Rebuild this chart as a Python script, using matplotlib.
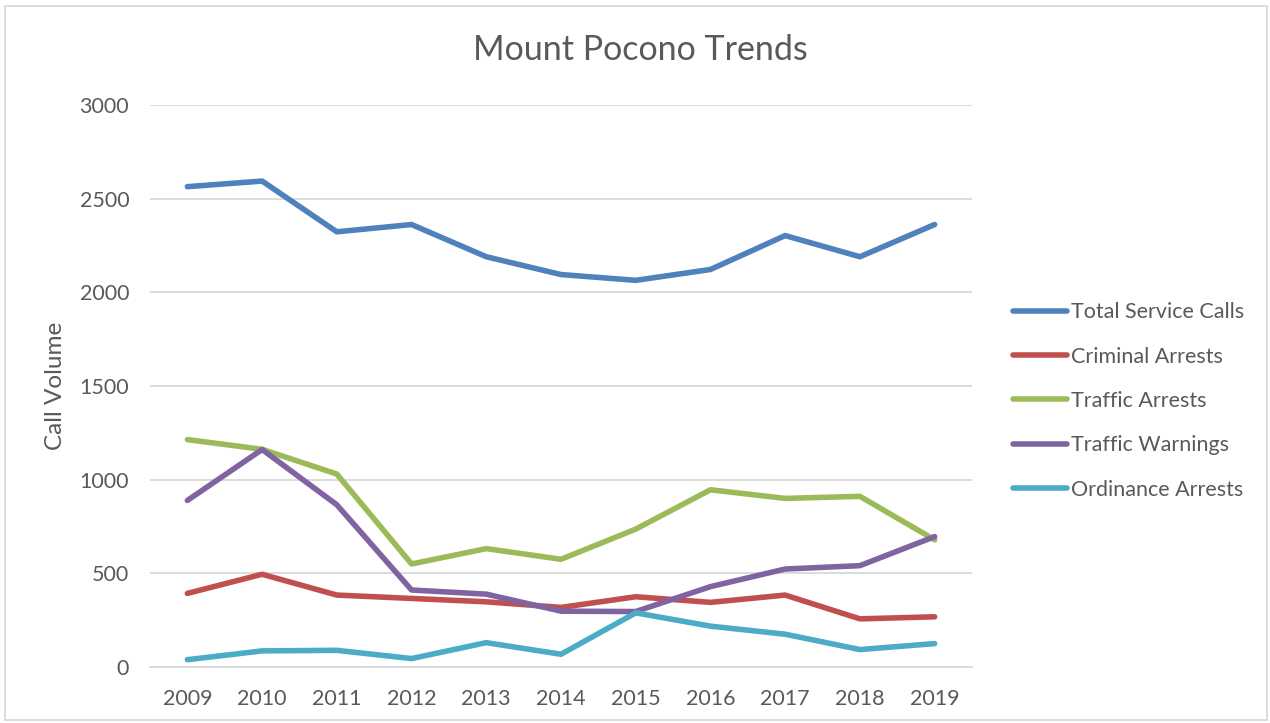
import matplotlib.pyplot as plt
from matplotlib.patches import Rectangle

plt.rcParams['font.family'] = ['Lato', 'DejaVu Sans']

years = ['2009', '2010', '2011', '2012', '2013', '2014', '2015', '2016', '2017', '2018', '2019']

total_service_calls = [2564, 2594, 2323, 2362, 2190, 2095, 2064, 2122, 2303, 2190, 2362]
criminal_arrests = [393, 495, 384, 366, 348, 318, 375, 345, 384, 257, 268]
traffic_arrests = [1214, 1162, 1030, 550, 632, 575, 736, 946, 900, 911, 679]
traffic_warnings = [889, 1161, 866, 411, 389, 298, 296, 429, 523, 541, 696]
ordinance_arrests = [39, 86, 89, 45, 130, 68, 289, 218, 175, 93, 125]

series = [
    ('Total Service Calls', total_service_calls, '#4f81bd'),
    ('Criminal Arrests', criminal_arrests, '#c0504d'),
    ('Traffic Arrests', traffic_arrests, '#9bbb59'),
    ('Traffic Warnings', traffic_warnings, '#8064a2'),
    ('Ordinance Arrests', ordinance_arrests, '#4bacc6'),
]

text_color = '#595959'
grid_color = '#d9d9d9'

fig = plt.figure(figsize=(12.7, 7.23), dpi=100)
ax = fig.add_axes([150 / 1270, 1 - 667 / 723, (972 - 150) / 1270, (667 - 105) / 723])

x = list(range(len(years)))
for name, vals, color in series:
    ax.plot(x, vals, color=color, lw=4, label=name, solid_capstyle='round', solid_joinstyle='round')

ax.set_xlim(-0.5, len(years) - 0.5)
ax.set_ylim(0, 3000)
ax.set_yticks(range(0, 3001, 500))
ax.set_xticks(x)
ax.set_xticklabels(years)
ax.yaxis.grid(True, color=grid_color, lw=1.3)
ax.set_axisbelow(True)
for side in ['top', 'right', 'left']:
    ax.spines[side].set_visible(False)
ax.spines['bottom'].set_color(grid_color)
ax.spines['bottom'].set_linewidth(1.3)
ax.tick_params(length=0, labelsize=15.5, colors=text_color)
ax.tick_params(axis='x', pad=15.5)
ax.tick_params(axis='y', pad=15)

ax.set_ylabel('Call Volume', fontsize=17.5, color=text_color, labelpad=10)
fig.text(640 / 1270, 1 - 50 / 723, 'Mount Pocono Trends', fontsize=24.5, color=text_color,
         ha='center', va='center')

leg = ax.legend(loc='center left', bbox_to_anchor=(1013 / 1270, 1 - 401 / 723),
                bbox_transform=fig.transFigure, frameon=False, borderpad=0, borderaxespad=0,
                fontsize=15.5, labelspacing=1.13, handlelength=2.5, handletextpad=0.2)
for t in leg.get_texts():
    t.set_color(text_color)

# outer chart border
fig.patches.append(Rectangle((5 / 1270, 3 / 723), 1262 / 1270, 714 / 723, transform=fig.transFigure,
                             fill=False, edgecolor=grid_color, lw=1.3))

fig.savefig('out.png', dpi=100)
